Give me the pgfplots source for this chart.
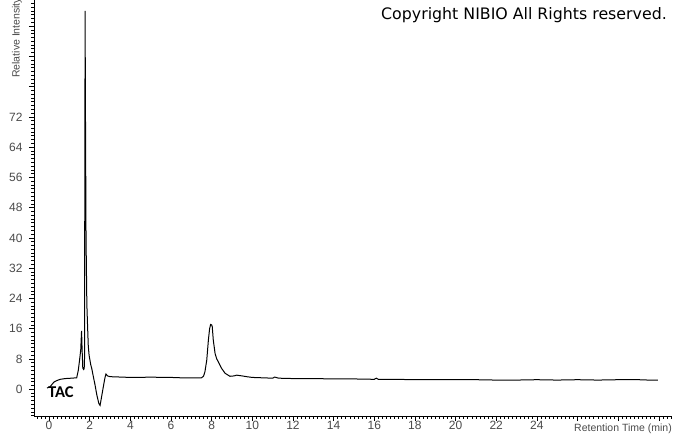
\documentclass[border=0pt]{standalone}
\usepackage{pgfplots}
\pgfplotsset{compat=1.18}
\usepackage{fontspec}
\setmainfont{Liberation Sans}
\newfontfamily\carlito{Carlito}
\newfontfamily\dejavu{DejaVu Sans}
\definecolor{ticklab}{HTML}{4A4A4A}
\begin{document}
\begin{tikzpicture}
\begin{axis}[
  at={(0,0)}, anchor=south west,
  scale only axis, width=637pt, height=416pt,
  xmin=-0.74, xmax=30.6, ymin=-7.1, ymax=102.9,
  axis lines=left, axis line style={-, line width=0.8pt, black},
  clip=false,
  tick align=outside,
  major tick length=5pt, minor tick length=2.5pt,
  every tick/.style={black, line width=0.6pt},
  xtick={0,2,...,30},
  xticklabels={0,2,4,6,8,10,12,14,16,18,20,22,24,,,},
  minor xtick={-0.6,-0.4,...,30.6},
  ytick={0,8,...,96},
  yticklabels={0,8,16,24,32,40,48,56,64,72,,,},
  minor ytick={-7,-6,...,102},
  /pgf/number format/assume math mode=true,
  tick label style={font=\fontsize{12}{14}\selectfont, text=ticklab},
  xticklabel style={yshift=3.5pt},
  yticklabel style={xshift=-3pt},
]
\addplot[black, line width=1pt] coordinates {
(-0.1,0.3) (0.05,0.6) (0.15,1.3) (0.25,1.9) (0.4,2.3) (0.55,2.6) (0.8,2.8)
(1.1,2.9) (1.36,3.0) (1.44,5.0) (1.52,8.5) (1.56,10.5) (1.60,15.4) (1.63,10)
(1.66,5.6) (1.70,5.2) (1.73,5.4) (1.745,8) (1.775,100) (1.785,81) (1.82,40)
(1.86,22.5) (1.90,16) (1.93,11.5) (1.97,9) (2.05,6.5) (2.10,5.5) (2.18,3.3)
(2.26,1.2) (2.35,-1.5) (2.45,-3.8) (2.51,-4.3) (2.57,-2.5) (2.67,0.6)
(2.75,3.0) (2.80,4.0) (2.88,3.5) (3.0,3.3) (3.5,3.2) (4.0,3.1) (4.5,3.1)
(5.0,3.2) (5.5,3.1) (6.0,3.1) (6.5,3.0) (7.0,3.0) (7.5,3.0) (7.6,3.4)
(7.67,4.6) (7.76,7.7) (7.84,13.0) (7.90,16.0) (7.95,17.1) (8.0,17.0)
(8.03,16.5) (8.08,13) (8.17,9.4) (8.25,8.0) (8.33,7.2) (8.49,5.5) (8.66,4.2)
(8.9,3.4) (9.1,3.5) (9.23,3.7) (9.5,3.5) (9.72,3.3) (10.0,3.1) (10.5,3.0)
(11.0,2.9) (11.1,3.2) (11.3,2.9) (12.0,2.8) (13.0,2.8) (14.0,2.7) (15.0,2.7)
(16.0,2.6) (16.1,2.9) (16.2,2.6) (17.0,2.6) (18.0,2.5) (19.0,2.5) (20.0,2.5)
(21.0,2.5) (22.0,2.4) (23.0,2.4) (24.0,2.5) (25.0,2.4) (26.0,2.5) (27.0,2.4)
(28.0,2.5) (29.0,2.5) (29.5,2.4) (29.95,2.4)
};
\node[anchor=base east, inner sep=0pt, font=\dejavu\fontsize{15.8}{18}\selectfont] at (rel axis cs:0.9937,0.954) {Copyright NIBIO All Rights reserved.};
\node[anchor=base west, inner sep=0pt, font=\carlito\bfseries\fontsize{16.5}{18}\selectfont] at (rel axis cs:0.022,0.0433) {TAC};
\node[anchor=west, inner sep=0pt, rotate=90, font=\fontsize{10.5}{12}\selectfont, text=ticklab] at (rel axis cs:-0.0267,0.8125) {Relative Intensity};
\node[anchor=base east, inner sep=0pt, font=\fontsize{10.5}{13}\selectfont, text=ticklab] at (rel axis cs:1.0016,0) [yshift=-15.5pt] {Retention Time (min)};
\end{axis}
\pgfresetboundingbox
\path[use as bounding box] (-34pt,-18pt) rectangle (640pt,416pt);
\end{tikzpicture}
\end{document}
